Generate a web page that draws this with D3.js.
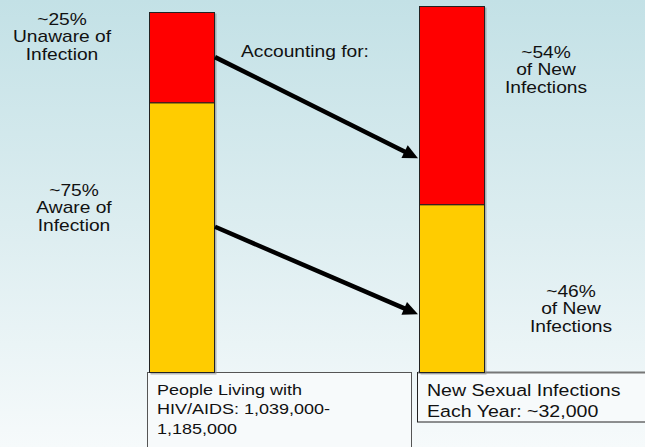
<!DOCTYPE html>
<html>
<head>
<meta charset="utf-8">
<script src="https://cdn.jsdelivr.net/npm/d3@7/dist/d3.min.js"></script>
<style>
  html, body { margin: 0; padding: 0; overflow: hidden; }
  svg { display: block; }
  text { font-family: "Liberation Sans", Arial, sans-serif; fill: #111; }
</style>
</head>
<body>
<svg id="chart" width="645" height="447"></svg>
<script>
// ---- data ----
const categories = ["People Living with HIV/AIDS", "New Sexual Infections"];
const unawareShare = [25, 54];   // red (top) segment, %
const awareShare = [75, 46];     // yellow (bottom) segment, %
const boxLines = [
  ["People Living with", "HIV/AIDS: 1,039,000-", "1,185,000"],
  ["New Sexual Infections", "Each Year: ~32,000"]
];
const leftLabels = [["~25%", "Unaware of", "Infection"], ["~75%", "Aware of", "Infection"]];
const rightLabels = [["~54%", "of New", "Infections"], ["~46%", "of New", "Infections"]];
const connectorTitle = "Accounting for:";
// arrow anchors, in % of bar height measured from the bar's bottom
const arrowFrom = [87.5, 40.5];
const arrowTo = [58.5, 16];

// ---- layout ----
const W = 645, H = 447;
const svg = d3.select("#chart");
const defs = svg.append("defs");
const grad = defs.append("linearGradient").attr("id", "bg").attr("x1", 0).attr("y1", 0).attr("x2", 0).attr("y2", 1);
grad.append("stop").attr("offset", "0%").attr("stop-color", "#c3e1e6");
grad.append("stop").attr("offset", "50%").attr("stop-color", "#dcedf0");
grad.append("stop").attr("offset", "100%").attr("stop-color", "#f6fafb");
svg.append("rect").attr("width", W).attr("height", H).attr("fill", "url(#bg)");

const barW = 66;
const x = d3.scaleBand().domain(categories).range([149, 689]).paddingInner(0).paddingOuter(0);
const baseY = 373;
const yScales = [
  d3.scaleLinear().domain([0, 100]).range([baseY, 12]),
  d3.scaleLinear().domain([0, 100]).range([baseY, 6])
];

const SX = 1.2; // horizontal stretch of the source slide text

function multiLine(g, lines, cx, y0, lh, size, anchor) {
  const t = g.append("text")
    .attr("transform", `translate(${cx},${y0}) scale(${SX},1)`)
    .attr("text-anchor", anchor)
    .style("font-size", size + "px");
  lines.forEach((l, i) => {
    t.append("tspan").attr("x", 0).attr("y", i * lh).text(l);
  });
  return t;
}

// ---- bottom boxes ----
const boxG = svg.append("g");
boxG.append("rect").attr("x", 147.5).attr("y", 372.5).attr("width", 264).attr("height", 90)
  .attr("fill", "#f7fafb").attr("stroke", "#555").attr("stroke-width", 1);
boxG.append("rect").attr("x", 417.5).attr("y", 372.5).attr("width", 260).attr("height", 49.5)
  .attr("fill", "#f7fafb").attr("stroke", "#222").attr("stroke-width", 1);
boxG.append("line").attr("x1", 418).attr("x2", W).attr("y1", 372.5).attr("y2", 372.5)
  .attr("stroke", "#777").attr("stroke-width", 2);
multiLine(boxG, boxLines[0], 157, 395, 19.5, 15, "start");
multiLine(boxG, boxLines[1], 427, 396, 21, 16.3, "start");

// ---- bars ----
const barsG = svg.append("g");
categories.forEach((c, i) => {
  const y = yScales[i];
  const x0 = x(c);
  // shadow
  barsG.append("rect").attr("x", x0 + 1.5).attr("y", y(100) + 1.5).attr("width", barW).attr("height", baseY - y(100))
    .attr("fill", "#8a8a8a").attr("opacity", 0.6);
  barsG.append("rect").attr("x", x0 + 0.5).attr("y", y(awareShare[i]) + 0.5)
    .attr("width", barW - 1).attr("height", y(0) - y(awareShare[i]) - 1)
    .attr("fill", "#ffcc00").attr("stroke", "#222").attr("stroke-width", 1);
  barsG.append("rect").attr("x", x0 + 0.5).attr("y", y(awareShare[i] + unawareShare[i]) + 0.5)
    .attr("width", barW - 1).attr("height", y(awareShare[i]) - y(awareShare[i] + unawareShare[i]))
    .attr("fill", "#ff0000").attr("stroke", "#222").attr("stroke-width", 1);
});

// ---- arrows ----
const arrG = svg.append("g");
arrowFrom.forEach((f, i) => {
  const x1 = x(categories[0]) + barW, y1 = yScales[0](f);
  const x2 = x(categories[1]) - 1, y2 = yScales[1](arrowTo[i]);
  const ang = Math.atan2(y2 - y1, x2 - x1);
  const headL = 15, headW = 7;
  const bx = x2 - headL * Math.cos(ang), by = y2 - headL * Math.sin(ang);
  arrG.append("line").attr("x1", x1).attr("y1", y1).attr("x2", bx + 2 * Math.cos(ang)).attr("y2", by + 2 * Math.sin(ang))
    .attr("stroke", "#000").attr("stroke-width", 4.5);
  const px = -Math.sin(ang), py = Math.cos(ang);
  arrG.append("polygon")
    .attr("points", [[x2, y2], [bx + headW * px, by + headW * py], [bx - headW * px, by - headW * py]].map(p => p.join(",")).join(" "))
    .attr("fill", "#000");
});

// ---- labels ----
const lblG = svg.append("g");
multiLine(lblG, leftLabels[0], 62, 25, 17.5, 16, "middle");
multiLine(lblG, leftLabels[1], 74, 196, 17.5, 16, "middle");
multiLine(lblG, rightLabels[0], 546, 58, 17.5, 16, "middle");
multiLine(lblG, rightLabels[1], 571, 297, 17.5, 16, "middle");
multiLine(lblG, [connectorTitle], 241, 57, 17.5, 16, "start");
</script>
</body>
</html>
